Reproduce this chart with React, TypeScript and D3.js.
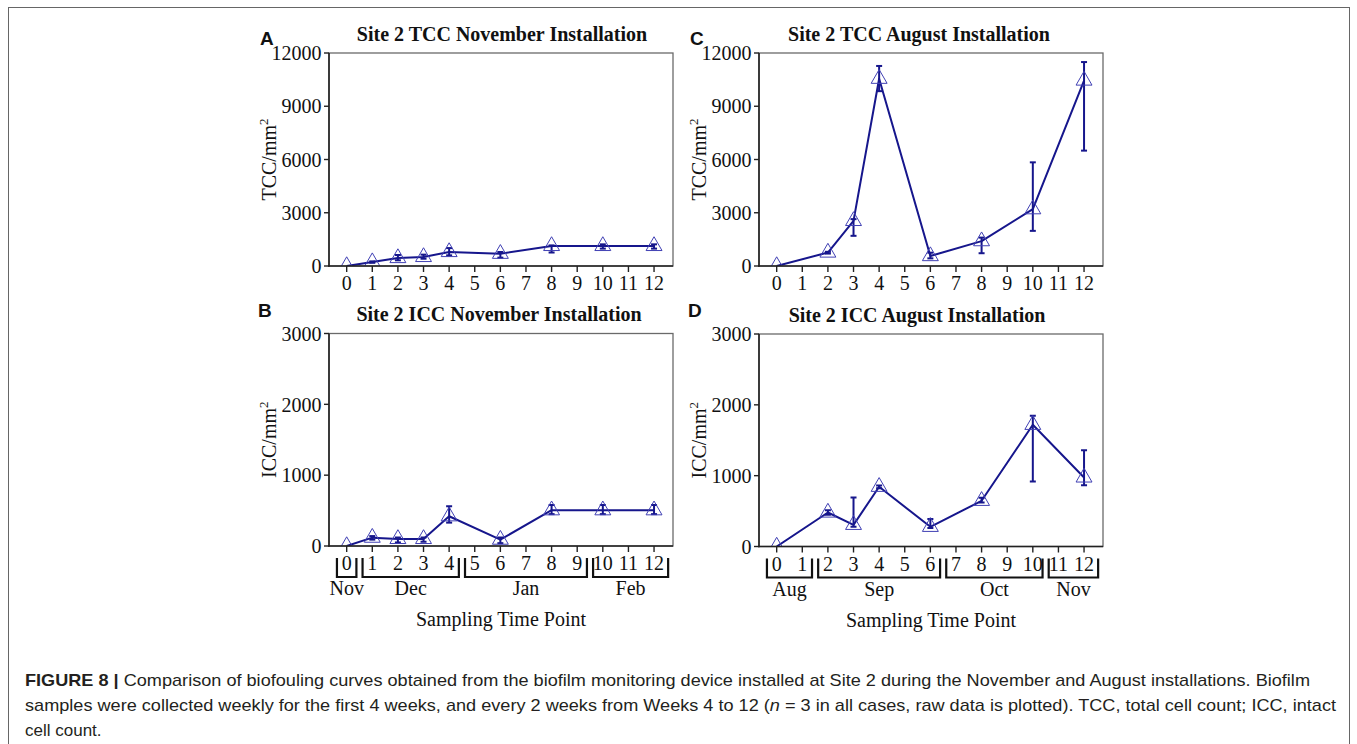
import React from 'react';
import * as d3 from 'd3';

// sampling weeks shown on every x axis
const weekTicks = [0, 1, 2, 3, 4, 5, 6, 7, 8, 9, 10, 11, 12];
const tccTicks = [0, 3000, 6000, 9000, 12000];
const iccTicks = [0, 1000, 2000, 3000];

// A: TCC, November installation
const novWeeks = [0, 1, 2, 3, 4, 6, 8, 10, 12];
const tccNovMean = [0, 220, 450, 510, 790, 690, 1130, 1130, 1130];
const tccNovLow = [0, 180, 320, 410, 600, 470, 760, 980, 980];
const tccNovHigh = [0, 260, 620, 640, 1010, 790, 1160, 1220, 1220];

// B: ICC, November installation
const iccNovMean = [0, 118, 100, 100, 420, 90, 505, 505, 505];
const iccNovLow = [0, 90, 50, 60, 330, 40, 450, 450, 450];
const iccNovHigh = [0, 140, 120, 120, 560, 120, 580, 580, 580];

// C: TCC, August installation
const augWeeks = [0, 2, 3, 4, 6, 8, 10, 12];
const tccAugMean = [0, 760, 2540, 10550, 560, 1400, 3200, 10450];
const tccAugLow = [0, 700, 1700, 9850, 430, 720, 1980, 6500];
const tccAugHigh = [0, 800, 2640, 11270, 750, 1600, 5840, 11490];

// D: ICC, August installation
const iccAugMean = [0, 480, 306, 843, 278, 645, 1718, 975];
const iccAugLow = [0, 447, 278, 824, 260, 620, 918, 866];
const iccAugHigh = [0, 513, 692, 862, 390, 690, 1845, 1360];

// calendar months under the week axis (first / last week of each)
const novMonths = ['Nov', 'Dec', 'Jan', 'Feb'];
const novMonthFirst = [0, 1, 5, 10];
const novMonthLast = [0, 4, 9, 12];
const augMonths = ['Aug', 'Sep', 'Oct', 'Nov'];
const augMonthFirst = [0, 2, 7, 11];
const augMonthLast = [1, 6, 10, 12];

const LINE = '#16168c';
const MARK = '#4040b4';
const SERIF = '"Liberation Serif", "Times New Roman", serif';

type PanelProps = {
  id: string;
  letter: string;
  letterPos: [number, number];
  title: string;
  titleShift: number;
  yName: string;
  yMax: number;
  yTicks: number[];
  weeks: number[];
  mean: number[];
  low: number[];
  high: number[];
  left: number;
  right: number;
  top: number;
  bottom: number;
  months?: string[];
  monthFirst?: number[];
  monthLast?: number[];
};

const Panel: React.FC<PanelProps> = (p) => {
  const x = d3.scaleLinear().domain([-0.69, 12.74]).range([p.left, p.right]);
  const y = d3.scaleLinear().domain([0, p.yMax]).range([p.bottom, p.top]);
  const idx = p.weeks.map((_, i) => i);
  const line = d3.line<number>()
    .x(i => x(p.weeks[i]))
    .y(i => y(p.mean[i]));
  const tri = d3.symbol(d3.symbolTriangle, 110)()!;
  const cx = (p.left + p.right) / 2;
  const cy = (p.top + p.bottom) / 2;

  return (
    <g>
      <defs>
        <clipPath id={`clip-${p.id}`}>
          <rect x={p.left} y={p.top} width={p.right - p.left} height={p.bottom - p.top} />
        </clipPath>
      </defs>
      <text x={p.letterPos[0]} y={p.letterPos[1]} fontFamily='"Liberation Sans", Arial, sans-serif'
        fontWeight="bold" fontSize={19} fill="#111">{p.letter}</text>
      <text x={cx + p.titleShift} y={p.top - 12.5} textAnchor="middle" fontFamily={SERIF} fontWeight="bold"
        fontSize={20} fill="#111">{p.title}</text>

      <rect x={p.left} y={p.top} width={p.right - p.left} height={p.bottom - p.top}
        fill="#fff" stroke="#6a6a6a" strokeWidth={1.3} />

      <g clipPath={`url(#clip-${p.id})`}>
        {idx.filter(i => p.high[i] > p.low[i]).map(i => (
          <g key={`e${i}`} stroke={LINE} strokeWidth={2}>
            <line x1={x(p.weeks[i])} x2={x(p.weeks[i])} y1={y(p.low[i])} y2={y(p.high[i])} />
            <line x1={x(p.weeks[i]) - 3} x2={x(p.weeks[i]) + 3} y1={y(p.low[i])} y2={y(p.low[i])} />
            <line x1={x(p.weeks[i]) - 3} x2={x(p.weeks[i]) + 3} y1={y(p.high[i])} y2={y(p.high[i])} />
          </g>
        ))}
        <path d={line(idx)!} fill="none" stroke={LINE} strokeWidth={2} strokeLinejoin="round" />
        {idx.map(i => (
          <path key={`t${i}`} d={tri} transform={`translate(${x(p.weeks[i])},${y(p.mean[i])})`}
            fill="none" stroke={MARK} strokeWidth={1} />
        ))}
      </g>

      {/* axes */}
      <line x1={p.left} x2={p.left} y1={p.top} y2={p.bottom + 0.7} stroke="#222" strokeWidth={1.6} />
      <line x1={p.left - 0.7} x2={p.right} y1={p.bottom} y2={p.bottom} stroke="#222" strokeWidth={1.6} />
      {p.yTicks.map(t => (
        <g key={`y${t}`}>
          <line x1={p.left - 5} x2={p.left} y1={y(t)} y2={y(t)} stroke="#222" strokeWidth={1.4} />
          <text x={p.left - 7.5} y={y(t)} dy="0.36em" textAnchor="end" fontFamily={SERIF}
            fontSize={20} fill="#111">{t}</text>
        </g>
      ))}
      {weekTicks.map(t => (
        <g key={`x${t}`}>
          <line x1={x(t)} x2={x(t)} y1={p.bottom} y2={p.bottom + 6} stroke="#222" strokeWidth={1.4} />
          <text x={x(t)} y={p.bottom + 24} textAnchor="middle" fontFamily={SERIF}
            fontSize={20} fill="#111">{t}</text>
        </g>
      ))}
      <text transform={`translate(${p.left - 53},${cy}) rotate(-90)`} textAnchor="middle"
        fontFamily={SERIF} fontSize={20} fill="#111">
        {p.yName}/mm<tspan dy={-8} fontSize={13}>2</tspan>
      </text>

      {p.months && p.months.map((m, i) => {
        const last = i === p.months!.length - 1;
        const x1 = x(p.monthFirst![i] - 0.38);
        const x2 = x(p.monthLast![i] + (last ? 0.55 : 0.38));
        return (
          <g key={m + i}>
            <path d={`M${x1},${p.bottom + 12}V${p.bottom + 31}H${x2}V${p.bottom + 12}`}
              fill="none" stroke="#111" strokeWidth={2.2} />
            <text x={(x1 + x2) / 2} y={p.bottom + 49} textAnchor="middle" fontFamily={SERIF}
              fontSize={20} fill="#111">{m}</text>
          </g>
        );
      })}
      {p.months && (
        <text x={cx} y={p.bottom + 80} textAnchor="middle" fontFamily={SERIF} fontSize={20}
          fill="#111">Sampling Time Point</text>
      )}
    </g>
  );
};

const App: React.FC = () => {
  const cap = '"Liberation Sans Narrow", "Arial Narrow", "Liberation Sans", Arial, sans-serif';
  return (
    <div style={{ position: 'fixed', left: 0, top: 0 }}>
      <svg width={1357} height={744} style={{ display: 'block', background: '#fff' }}>
        <rect x={8.5} y={7.5} width={1341} height={760} fill="none" stroke="#666" strokeWidth={1} />

        <Panel id="a" letter="A" letterPos={[260, 45]} title="Site 2 TCC November Installation"
          titleShift={1} yName="TCC" yMax={12000} yTicks={tccTicks} weeks={novWeeks}
          mean={tccNovMean} low={tccNovLow} high={tccNovHigh}
          left={329} right={673} top={53} bottom={266} />
        <Panel id="c" letter="C" letterPos={[690, 45]} title="Site 2 TCC August Installation"
          titleShift={-12} yName="TCC" yMax={12000} yTicks={tccTicks} weeks={augWeeks}
          mean={tccAugMean} low={tccAugLow} high={tccAugHigh}
          left={759} right={1103} top={53} bottom={266} />
        <Panel id="b" letter="B" letterPos={[258, 317]} title="Site 2 ICC November Installation"
          titleShift={-2} yName="ICC" yMax={3000} yTicks={iccTicks} weeks={novWeeks}
          mean={iccNovMean} low={iccNovLow} high={iccNovHigh}
          left={329} right={673} top={333.5} bottom={546}
          months={novMonths} monthFirst={novMonthFirst} monthLast={novMonthLast} />
        <Panel id="d" letter="D" letterPos={[688, 317]} title="Site 2 ICC August Installation"
          titleShift={-14} yName="ICC" yMax={3000} yTicks={iccTicks} weeks={augWeeks}
          mean={iccAugMean} low={iccAugLow} high={iccAugHigh}
          left={759} right={1103} top={334} bottom={546.5}
          months={augMonths} monthFirst={augMonthFirst} monthLast={augMonthLast} />

        <g fontFamily={cap} fontSize={17} fill="#231f20">
          <text x={25} y={686} textLength={1285} lengthAdjust="spacingAndGlyphs">
            <tspan fontWeight="bold">FIGURE 8 |</tspan> Comparison of biofouling curves obtained from the biofilm monitoring device installed at Site 2 during the November and August installations. Biofilm
          </text>
          <text x={25} y={711} textLength={1311} lengthAdjust="spacingAndGlyphs">
            samples were collected weekly for the first 4 weeks, and every 2 weeks from Weeks 4 to 12 (<tspan fontStyle="italic">n</tspan> = 3 in all cases, raw data is plotted). TCC, total cell count; ICC, intact
          </text>
          <text x={25} y={736}>cell count.</text>
        </g>
      </svg>
    </div>
  );
};

export default App;
